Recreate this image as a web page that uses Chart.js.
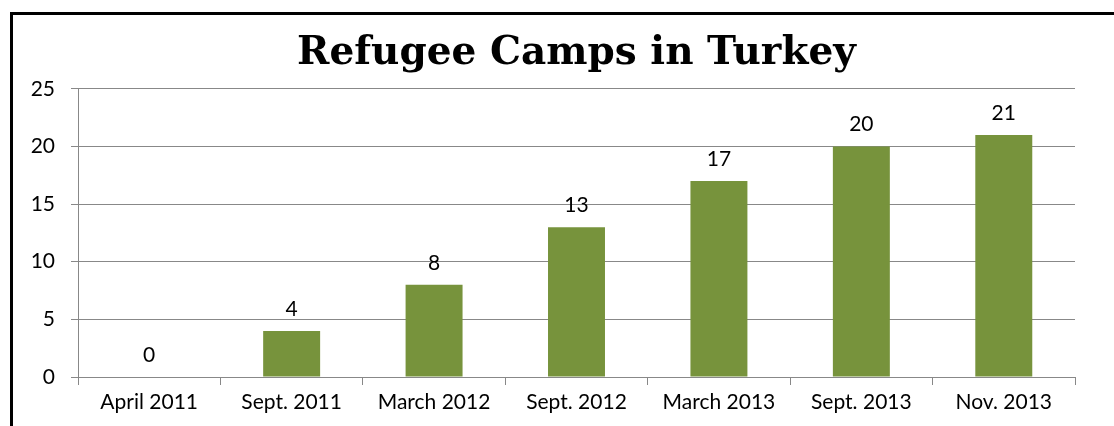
<!DOCTYPE html>
<html>
<head>
<meta charset="utf-8">
<script src="https://cdn.jsdelivr.net/npm/chart.js@4.4.1/dist/chart.umd.min.js"></script>
<style>
  html, body { margin: 0; padding: 0; background: #fff; overflow: hidden; }
  #wrap { position: relative; width: 1114px; height: 426px; }
  #frame {
    position: absolute; left: 10px; top: 12px; right: -10px; bottom: -10px;
    border-top: 3px solid #000; border-left: 3px solid #000;
    pointer-events: none;
  }
  canvas { position: absolute; left: 0; top: 0; }
</style>
</head>
<body>
<div id="wrap">
  <canvas id="chart" width="1114" height="426"></canvas>
  <div id="frame"></div>
</div>
<script>
const categories = ["April 2011", "Sept. 2011", "March 2012", "Sept. 2012", "March 2013", "Sept. 2013", "Nov. 2013"];
const camps = [0, 4, 8, 13, 17, 20, 21];
const yTicks = [0, 5, 10, 15, 20, 25];

const labelFont = "Lato, 'Open Sans', sans-serif";

// draws the number above each bar
const barValueLabels = {
  id: "barValueLabels",
  afterDatasetsDraw(chart) {
    const { ctx } = chart;
    const meta = chart.getDatasetMeta(0);
    ctx.save();
    ctx.font = "21px " + labelFont;
    ctx.fillStyle = "#000";
    ctx.textAlign = "center";
    ctx.textBaseline = "middle";
    meta.data.forEach((bar, i) => {
      ctx.fillText(String(camps[i]), bar.x, bar.y - 22);
    });
    ctx.restore();
  },
};

new Chart(document.getElementById("chart"), {
  type: "bar",
  data: {
    labels: categories,
    datasets: [
      {
        data: camps,
        backgroundColor: "#77933C",
        barPercentage: 0.8,
        categoryPercentage: 0.5,
      },
    ],
  },
  options: {
    responsive: false,
    animation: false,
    layout: { padding: { left: 0, right: 39, top: 0, bottom: 0 } },
    plugins: {
      legend: { display: false },
      tooltip: { enabled: false },
      title: {
        display: true,
        fullSize: false, // center over the plot area, not the whole canvas
        text: "Refugee Camps in Turkey",
        color: "#000",
        font: { family: "'DejaVu Serif', serif", size: 39, weight: "bold" },
        padding: { top: 30, bottom: 12 },
      },
    },
    scales: {
      x: {
        grid: {
          offset: true,
          drawOnChartArea: false,
          color: "#888",
          tickLength: 8,
        },
        border: { color: "#888" },
        ticks: {
          color: "#000",
          font: { family: labelFont, size: 21 },
          padding: 5,
        },
        afterFit(scale) { scale.height = 49; },
      },
      y: {
        min: 0,
        max: 25,
        afterBuildTicks(scale) {
          scale.ticks = yTicks.map((v) => ({ value: v }));
        },
        grid: { color: "#888", tickLength: 7 },
        border: { color: "#888" },
        ticks: {
          color: "#000",
          font: { family: labelFont, size: 21 },
          padding: 16,
        },
        afterFit(scale) { scale.width = 78; },
      },
    },
  },
  plugins: [barValueLabels],
});
</script>
</body>
</html>
